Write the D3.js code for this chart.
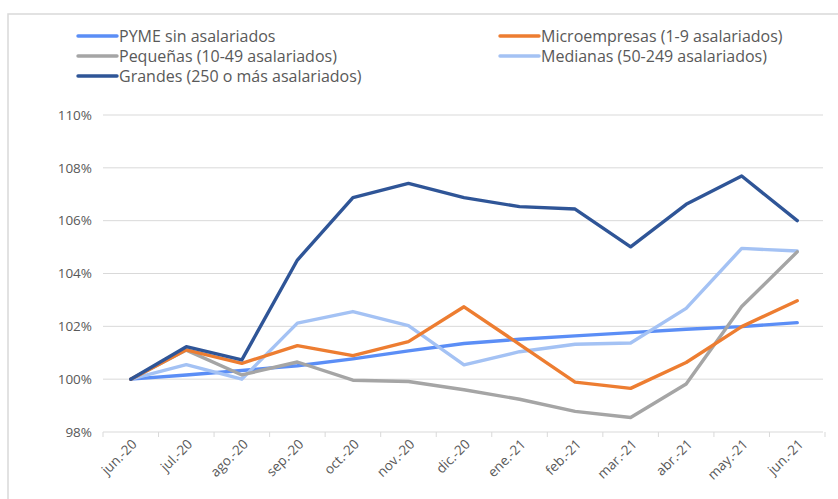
<!DOCTYPE html>
<html>
<head>
<meta charset="utf-8">
<script src="https://cdn.jsdelivr.net/npm/d3@7"></script>
<style>
  body { margin: 0; background: #fff; }
  text { font-family: "Open Sans", sans-serif; fill: #595959; }
</style>
</head>
<body>
<div id="my_dataviz"></div>
<script>
// categories and series (index, jun.-20 = 100)
var months = ["jun.-20", "jul.-20", "ago.-20", "sep.-20", "oct.-20", "nov.-20", "dic.-20",
              "ene.-21", "feb.-21", "mar.-21", "abr.-21", "may.-21", "jun.-21"];
var pymeSin   = [100, 100.16, 100.33, 100.51, 100.77, 101.07, 101.35, 101.51, 101.64, 101.76, 101.89, 101.99, 102.14];
var micro     = [100, 101.11, 100.60, 101.27, 100.89, 101.42, 102.74, 101.32, 99.89, 99.65, 100.63, 101.99, 102.97];
var pequenas  = [100, 101.10, 100.16, 100.65, 99.96, 99.91, 99.60, 99.24, 98.78, 98.55, 99.82, 102.75, 104.82];
var medianas  = [100, 100.55, 100.00, 102.12, 102.56, 102.03, 100.54, 101.04, 101.32, 101.37, 102.68, 104.95, 104.85];
var grandes   = [100, 101.23, 100.73, 104.51, 106.87, 107.41, 106.87, 106.53, 106.44, 105.01, 106.62, 107.69, 106.00];
var yTicks = [98, 100, 102, 104, 106, 108, 110];

var series = [
  { name: "PYME sin asalariados", values: pymeSin, color: "#5b8ef6" },
  { name: "Microempresas (1-9 asalariados)", values: micro, color: "#ed7d31" },
  { name: "Pequeñas (10-49 asalariados)", values: pequenas, color: "#a5a5a5" },
  { name: "Medianas (50-249 asalariados)", values: medianas, color: "#a4c2f4" },
  { name: "Grandes (250 o más asalariados)", values: grandes, color: "#2f5597" }
];
// draw order so the dark blue sits on top of the others
var drawOrder = [0, 3, 2, 1, 4];

var W = 838, H = 499;
var margin = { top: 115, left: 103 };
var width = 825 - margin.left,
    height = 432 - margin.top;

var svg = d3.select("#my_dataviz")
  .append("svg")
  .attr("width", W)
  .attr("height", H);

// chart area border
svg.append("rect")
  .attr("x", 8).attr("y", 14)
  .attr("width", 840).attr("height", 500)
  .style("fill", "none")
  .style("stroke", "#d9d9d9")
  .style("stroke-width", 1.5);

var g = svg.append("g")
  .attr("transform", "translate(" + margin.left + "," + margin.top + ")");

var x = d3.scalePoint()
  .domain(months)
  .range([0, width])
  .padding(0.5);

var y = d3.scaleLinear()
  .domain([98, 110])
  .range([height, 0]);

// gridlines
g.append("g")
  .selectAll("line")
  .data(yTicks.filter(function(d) { return d !== 98; }))
  .enter()
  .append("line")
  .attr("x1", 0).attr("x2", width - 2)
  .attr("y1", function(d) { return y(d); })
  .attr("y2", function(d) { return y(d); })
  .style("stroke", "#d9d9d9")
  .style("stroke-width", 1);

// y axis labels
var yAxis = g.append("g")
  .call(d3.axisLeft(y).tickValues(yTicks)
    .tickFormat(function(d) { return d + "%"; })
    .tickSize(0).tickPadding(11));
yAxis.select(".domain").remove();
yAxis.selectAll("text").style("font-size", "13.5px").style("fill", "#595959")
  .style("font-family", "'Open Sans', sans-serif");

// x axis with ticks between categories
var xAxis = g.append("g")
  .attr("transform", "translate(0," + height + ")");
xAxis.append("line")
  .attr("x1", 0).attr("x2", width - 2)
  .style("stroke", "#d9d9d9");
var step = x.step();
xAxis.selectAll(".tk")
  .data(d3.range(months.length + 1))
  .enter()
  .append("line")
  .attr("x1", function(i) { return i * step; })
  .attr("x2", function(i) { return i * step; })
  .attr("y1", 0).attr("y2", 5)
  .style("stroke", "#d9d9d9");
xAxis.selectAll(".lbl")
  .data(months)
  .enter()
  .append("text")
  .attr("transform", function(d) {
    return "translate(" + (x(d) + 7) + ",13) rotate(-45)";
  })
  .style("text-anchor", "end")
  .style("font-size", "13.5px")
  .text(function(d) { return d; });

// lines
var line = d3.line()
  .x(function(d, i) { return x(months[i]); })
  .y(function(d) { return y(d); });

g.selectAll(".series")
  .data(drawOrder.map(function(i) { return series[i]; }))
  .enter()
  .append("path")
  .attr("d", function(d) { return line(d.values); })
  .style("fill", "none")
  .style("stroke", function(d) { return d.color; })
  .style("stroke-width", 3.4)
  .style("stroke-linejoin", "round")
  .style("stroke-linecap", "round");

// legend
var legendPos = [[78, 36], [500, 36], [78, 56], [500, 56], [78, 76]];
var legend = svg.selectAll(".legend")
  .data(series)
  .enter()
  .append("g")
  .attr("transform", function(d, i) {
    return "translate(" + legendPos[i][0] + "," + legendPos[i][1] + ")";
  });
legend.append("line")
  .attr("x1", 0).attr("x2", 39)
  .style("stroke", function(d) { return d.color; })
  .style("stroke-width", 3.4)
  .style("stroke-linecap", "round");
legend.append("text")
  .attr("x", 41)
  .attr("dy", "0.35em")
  .style("font-size", "16px")
  .text(function(d) { return d.name; });
</script>
</body>
</html>
